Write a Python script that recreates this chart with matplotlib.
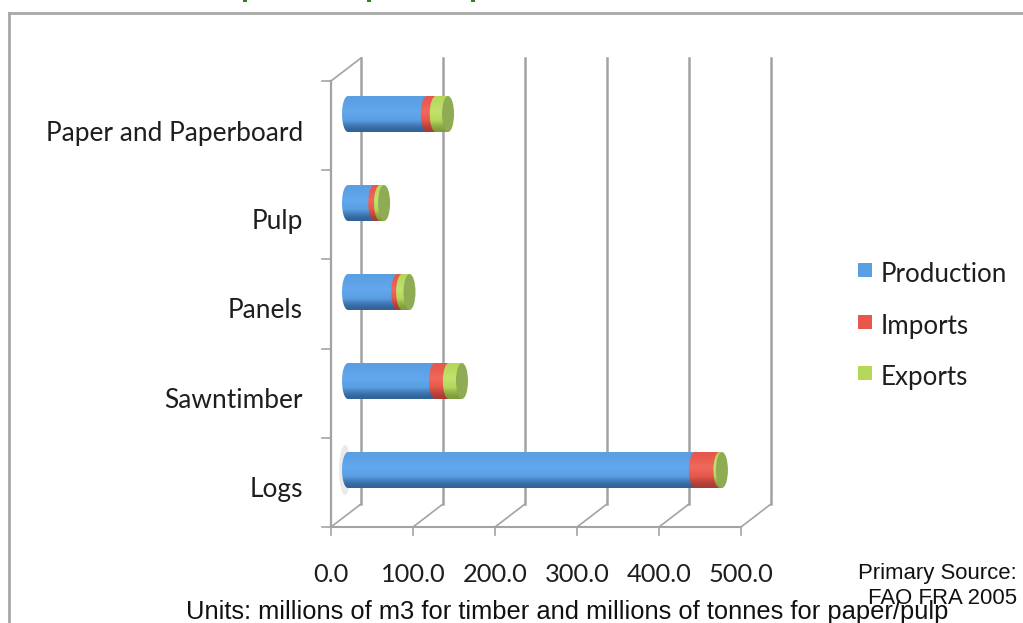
import numpy as np
import matplotlib
matplotlib.use('Agg')
import matplotlib.pyplot as plt
from matplotlib.patches import Ellipse, PathPatch
from matplotlib.path import Path
from matplotlib.colors import LinearSegmentedColormap

categories = ['Logs', 'Sawntimber', 'Panels', 'Pulp', 'Paper and Paperboard']
production = [423, 106, 60, 32, 96]
imports = [30, 17, 6, 7, 11]
exports = [3, 16, 9, 5, 15]
series_names = ['Production', 'Imports', 'Exports']
x_ticks = [0, 100, 200, 300, 400, 500]

colors = ['#5b9fe3', '#e8574c', '#b5d85c']
dark = ['#2f6196', '#a83b33', '#7d9a3c']
light = ['#62a8ee', '#ef6a5c', '#c2e26e']
cap_color = '#8fac55'

WIDTH, HEIGHT = 1023, 623
PX_PER_UNIT = 0.82
ZERO_PX = 331
LOGS_PY = 470
ROW_PX = 89


# helpers for placing furniture by pixel position
def px_x(px):
    return (px - ZERO_PX) / PX_PER_UNIT


def px_y(py):
    return (LOGS_PY - py) / ROW_PX


fig = plt.figure(figsize=(WIDTH / 100, HEIGHT / 100), dpi=100)
ax = fig.add_axes([0, 0, 1, 1])
ax.axis('off')

# depth of the 3d box, in axis units
depth_x = 30 / PX_PER_UNIT
depth_y = 23 / ROW_PX
floor_y = px_y(527)
top_y = px_y(81)
grid_c = '#a3a3a3'

# walls and gridlines
for t in x_ticks:
    ax.plot([t + depth_x, t + depth_x], [floor_y + depth_y, top_y + depth_y], color=grid_c, lw=1.8, zorder=1)
    ax.plot([t, t + depth_x], [floor_y, floor_y + depth_y], color=grid_c, lw=1.2, zorder=1)
    ax.plot([t, t], [floor_y, floor_y - 8 / ROW_PX], color=grid_c, lw=1.2, zorder=1)
ax.plot([0, 500], [floor_y, floor_y], color=grid_c, lw=1.5, zorder=1)
ax.plot([0, 0], [floor_y, top_y], color=grid_c, lw=1.6, zorder=1)
ax.plot([0, depth_x], [top_y, top_y + depth_y], color=grid_c, lw=1.2, zorder=1)
for i in range(6):
    tick_y = floor_y + i * (top_y - floor_y) / 5
    ax.plot([-9 / PX_PER_UNIT, 0], [tick_y, tick_y], color=grid_c, lw=1.2, zorder=1)

# stacked cylinders, each piece has a curved left edge over the one before
bar_start = px_x(348)
bar_h = 36 / ROW_PX
cap_w = 12 / PX_PER_UNIT
theta = np.linspace(np.pi / 2, 3 * np.pi / 2, 30)
grad = np.array([0, 0.3, 0.55, 0.8, 1]).reshape(-1, 1)

# soft shadow behind the start of the Logs bar
ax.add_patch(Ellipse((px_x(345), 0), 12 / PX_PER_UNIT, 50 / ROW_PX, color='#c4c4c4', alpha=0.35, lw=0, zorder=2))

for row in range(len(categories)):
    left = bar_start
    vals = [production[row], imports[row], exports[row]]
    for s, v in enumerate(vals):
        cmap = LinearSegmentedColormap.from_list('cyl', [dark[s], colors[s], light[s], colors[s]])
        arc_x = left + cap_w / 2 * np.cos(theta)
        arc_y = row + bar_h / 2 * np.sin(theta)
        verts = list(zip(arc_x, arc_y)) + [(left + v, row - bar_h / 2), (left + v, row + bar_h / 2), (left, row + bar_h / 2)]
        clip = PathPatch(Path(verts), transform=ax.transData, fc='none', ec='none')
        ax.add_patch(clip)
        im = ax.imshow(grad, cmap=cmap, aspect='auto', zorder=4 + s * 0.1, interpolation='bicubic',
                       extent=(left - cap_w, left + v, row - bar_h / 2, row + bar_h / 2), origin='lower')
        im.set_clip_path(clip)
        left += v
    ax.add_patch(Ellipse((left, row), cap_w, bar_h, color=cap_color, lw=0, zorder=5))

ax.set_xlim(px_x(0), px_x(WIDTH))
ax.set_ylim(px_y(HEIGHT), px_y(0))

label_font = 'Lato'
text_c = '#1e1e1e'
for row, name in enumerate(categories):
    ax.text(px_x(303), row - 19 / ROW_PX, name, ha='right', va='center',
            fontsize=18.9, family=label_font, color=text_c)
for t in x_ticks:
    ax.text(t, px_y(575), f'{t:.1f}', ha='center', va='center',
            fontsize=18.3, family=label_font, color=text_c)

# legend
for s, name in enumerate(series_names):
    ax.scatter([px_x(865.5)], [px_y(270 + s * 51.5)], marker='s', s=112,
               color=colors[s], zorder=3, linewidths=0)
    ax.text(px_x(881), px_y(275 + s * 51.5), name, ha='left', va='center',
            fontsize=18.7, family=label_font, color=text_c)

# slide frame
ax.plot([px_x(9), px_x(WIDTH)], [px_y(13)] * 2, color='#a8a8a8', lw=2)
ax.plot([px_x(9)] * 2, [px_y(13), px_y(HEIGHT)], color='#a8a8a8', lw=2)

# descenders of the slide heading, cut off by the top edge
for px in [243, 367, 471]:
    ax.plot([px_x(px), px_x(px + 4)], [px_y(0.8)] * 2, color='#2f7d12', lw=1.4, solid_capstyle='butt')

# captions on top of the chart
ax.text(px_x(1017), px_y(573), 'Primary Source:', ha='right', va='center',
        fontsize=15.9, family='Liberation Sans', color='#111111', zorder=6)
ax.text(px_x(1017), px_y(599), 'FAO FRA 2005', ha='right', va='center',
        fontsize=15.9, family='Liberation Sans', color='#111111', zorder=6)
ax.text(px_x(186), px_y(612), 'Units: millions of m3 for timber and millions of tonnes for paper/pulp',
        ha='left', va='center', fontsize=18.4, family='Liberation Sans', color='#111111', zorder=6)

fig.savefig('out.png', dpi=100)
plt.close(fig)
